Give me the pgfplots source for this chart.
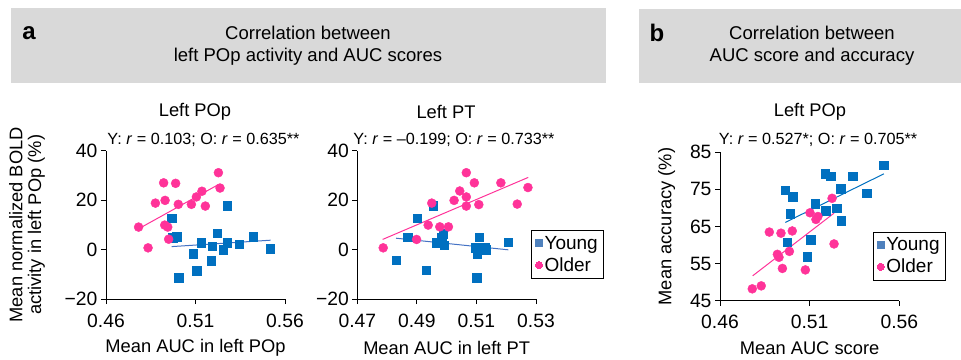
\documentclass[border=0pt]{standalone}
\usepackage{fontspec}
\setmainfont{Liberation Sans}
\usepackage{pgfplots}
\pgfplotsset{compat=1.18}
\definecolor{headgray}{HTML}{D9D9D9}
\definecolor{yblue}{HTML}{0070C0}
\definecolor{lblue}{HTML}{4472C4}
\definecolor{legblue}{HTML}{4F81BD}
\definecolor{opink}{HTML}{FF3399}
\newcommand\fs{\fontsize{18.3}{21}\selectfont}
\newcommand\ft{\fontsize{19.3}{22}\selectfont}
\newcommand\fa{\fontsize{16.2}{19}\selectfont}
\newcommand\fl{\fontsize{19}{21}\selectfont}
\pgfplotsset{
  myax/.style={
    scale only axis, clip=false,
    axis lines=left, axis line style={-, line width=0.9pt, black},
    tick style={line width=0.9pt, black}, tick align=outside,
    major tick length=5pt,
    tick label style={font=\ft, black},
    xticklabel style={yshift=-6pt},
    label style={font=\fs},
    xtick={0.46,0.51,0.56}, xticklabels={0.46,0.51,0.56},
    xmin=0.46, xmax=0.56,
  },
  yo/.style={only marks, mark=square*, mark size=4.2pt, color=yblue, forget plot},
  oo/.style={only marks, mark=*, mark size=4.5pt, color=opink, forget plot},
  leg/.style={legend style={at={(#1)}, anchor=north west, draw=black, line width=0.8pt,
      font=\fl, nodes={font=\fl}, inner xsep=4pt, inner ysep=3.5pt, row sep=3pt,
      /tikz/every even column/.append style={column sep=1pt}, legend cell align=left},
      legend image post style={line width=0pt}},
}
\begin{document}
\begin{tikzpicture}
\path[use as bounding box] (0,0) rectangle (961pt,-359pt);
% headers
\fill[headgray] (10.7pt,-8.3pt) rectangle (605.7pt,-82.7pt);
\fill[headgray] (639.3pt,-9.3pt) rectangle (961pt,-82.7pt);
\node[font=\fontsize{24}{26}\selectfont\bfseries] at (29pt,-33pt) {a};
\node[font=\fontsize{24}{26}\selectfont\bfseries] at (657pt,-33pt) {b};
\node[align=center, font=\fontsize{18.5}{22}\selectfont] at (308pt,-46pt) {Correlation between\\left POp activity and AUC scores};
\node[align=center, font=\fontsize{18.5}{22}\selectfont] at (812pt,-46pt) {Correlation between\\AUC score and accuracy};
% titles
\node[font=\fs] at (195pt,-111.7pt) {Left POp};
\node[font=\fa] at (203.5pt,-139.5pt) {Y: \textit{r} = 0.103; O: \textit{r} = 0.635**};
\node[font=\fs] at (446pt,-111.7pt) {Left PT};
\node[font=\fa] at (454pt,-140pt) {Y: \textit{r} = –0.199; O: \textit{r} = 0.733**};
\node[font=\fs] at (810pt,-111.7pt) {Left POp};
\node[font=\fa] at (818pt,-140pt) {Y: \textit{r} = 0.527*; O: \textit{r} = 0.705**};

% ---------- plot 1
\begin{axis}[myax, at={(106pt,-299pt)}, anchor=south west, width=179pt, height=148.3pt,
  ymin=-20, ymax=40, ytick={-20,0,20,40}, yticklabels={−20,0,20,40},
  xlabel={Mean AUC in left POp},
  xlabel style={at={(axis description cs:0.5,-0.332)}, anchor=center},
  ylabel={Mean normalized BOLD\\activity in left POp (\%)},
  ylabel style={at={(axis description cs:-0.441,0.5)}, anchor=center, align=center, font=\fontsize{18.3}{18.6}\selectfont}]
\addplot[yo] coordinates {(0.4967,12.7) (0.4972,4.8) (0.4994,5.2) (0.5006,-11.4) (0.5088,-1.6) (0.5106,-8.5) (0.5133,2.8) (0.5188,-4.5) (0.5192,1.4) (0.5220,6.6) (0.5254,0.0) (0.5278,17.8) (0.5276,2.8) (0.5343,2.2) (0.5421,5.2) (0.5518,0.4)};
\addplot[oo] coordinates {(0.4782,9.1) (0.4835,0.7) (0.4876,18.8) (0.4922,27.0) (0.4930,19.9) (0.4928,9.9) (0.4945,9.1) (0.4950,4.2) (0.4989,26.8) (0.5004,18.3) (0.5077,18.3) (0.5105,21.3) (0.5136,23.6) (0.5155,17.6) (0.5228,31.1) (0.5237,24.9)};
\addplot[lblue, line width=1pt, forget plot] coordinates {(0.4967,1.2) (0.5520,3.8)};
\addplot[opink, line width=1pt, forget plot] coordinates {(0.4782,8.4) (0.5228,26.3)};
\end{axis}

% ---------- plot 2
\begin{axis}[myax, at={(357.3pt,-299pt)}, anchor=south west, width=178.7pt, height=148.3pt,
  xmin=0.47, xmax=0.53, xtick={0.47,0.49,0.51,0.53}, xticklabels={0.47,0.49,0.51,0.53},
  ymin=-20, ymax=40, ytick={-20,0,20,40}, yticklabels={−20,0,20,40},
  xlabel={Mean AUC in left PT},
  xlabel style={at={(axis description cs:0.5,-0.332)}, anchor=center},
  leg={0.972,0.465}]
\addplot[yo] coordinates {(0.4831,-4.3) (0.4869,5.0) (0.4902,12.7) (0.4931,-8.4) (0.4954,17.8) (0.4964,2.8) (0.4983,5.0) (0.4988,6.4) (0.4992,1.8) (0.5096,0.7) (0.5101,-11.3) (0.5103,-1.7) (0.5109,5.0) (0.5128,0.7) (0.5131,-0.1) (0.5207,3.0)};
\addplot[oo] coordinates {(0.4787,0.7) (0.4899,4.1) (0.4938,9.9) (0.4950,18.8) (0.4977,9.2) (0.5006,9.2) (0.5025,19.9) (0.5044,23.7) (0.5066,21.3) (0.5066,31.1) (0.5066,17.6) (0.5093,27.0) (0.5108,18.2) (0.5182,27.0) (0.5237,18.4) (0.5273,25.1)};
\addplot[lblue, line width=1pt, forget plot] coordinates {(0.4830,4.6) (0.5207,-0.1)};
\addplot[opink, line width=1pt, forget plot] coordinates {(0.4785,4.1) (0.5274,29.2)};
\addlegendimage{only marks, mark=square*, mark size=3.3pt, color=legblue}
\addlegendentry{\fl Young\hspace{6pt}}
\addlegendimage{only marks, mark=*, mark size=3.6pt, color=opink}
\addlegendentry{\fl Older}
\end{axis}

% ---------- plot 3
\begin{axis}[myax, at={(720pt,-300.7pt)}, anchor=south west, width=179.3pt, height=148.4pt,
  ymin=45, ymax=85, ytick={45,55,65,75,85},
  yticklabels={45,55,65,75,85},
  xlabel={Mean AUC score},
  xlabel style={at={(axis description cs:0.5,-0.321)}, anchor=center},
  ylabel={Mean accuracy (\%)},
  ylabel style={at={(axis description cs:-0.297,0.5)}, anchor=center},
  leg={0.852,0.465}]
\addplot[yo] coordinates {(0.4964,74.8) (0.5005,73.0) (0.4990,68.4) (0.4975,60.8) (0.5087,56.9) (0.5106,61.4) (0.5130,71.2) (0.5189,69.3) (0.5186,79.2) (0.5217,78.6) (0.5251,70.0) (0.5273,75.2) (0.5275,66.6) (0.5340,78.6) (0.5418,73.9) (0.5514,81.5)};
\addplot[oo] coordinates {(0.4780,48.2) (0.4830,49.0) (0.4875,63.5) (0.4920,57.5) (0.4929,56.7) (0.4940,63.2) (0.4948,53.7) (0.4987,58.3) (0.5003,63.8) (0.5076,53.3) (0.5102,68.7) (0.5135,66.9) (0.5146,67.7) (0.5225,72.6) (0.5236,60.3)};
\addplot[yblue, line width=1pt, forget plot] coordinates {(0.4964,66.1) (0.5514,79.2)};
\addplot[opink, line width=1pt, forget plot] coordinates {(0.4782,51.7) (0.5236,68.6)};
\addlegendimage{only marks, mark=square*, mark size=3.3pt, color=legblue}
\addlegendentry{\fl Young\hspace{6pt}}
\addlegendimage{only marks, mark=*, mark size=3.6pt, color=opink}
\addlegendentry{\fl Older}
\end{axis}
\end{tikzpicture}
\end{document}
